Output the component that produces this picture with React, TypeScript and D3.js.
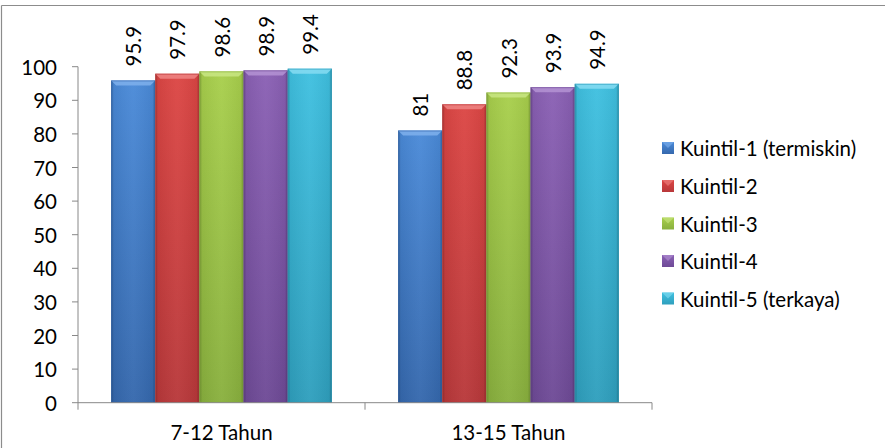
import React from "react";
import * as d3 from "d3";

const categories = ["7-12 Tahun", "13-15 Tahun"];
const seriesNames = [
  "Kuintil-1 (termiskin)",
  "Kuintil-2",
  "Kuintil-3",
  "Kuintil-4",
  "Kuintil-5 (terkaya)",
];
const kuintil1 = [95.9, 81];
const kuintil2 = [97.9, 88.8];
const kuintil3 = [98.6, 92.3];
const kuintil4 = [98.9, 93.9];
const kuintil5 = [99.4, 94.9];
const seriesValues = [kuintil1, kuintil2, kuintil3, kuintil4, kuintil5];
const yTicks = [0, 10, 20, 30, 40, 50, 60, 70, 80, 90, 100];

const colorsTop = ["#4a8ad8", "#dc4644", "#a8cf4c", "#8a60b4", "#3fc0e0"];
const colorsBottom = ["#3568ad", "#b8383a", "#89b03e", "#6e4a96", "#2f9fbd"];
const colorsLight = ["#7fb0ec", "#ee8584", "#c9e684", "#b493d4", "#86dcf2"];

const W = 885;
const H = 448;
const plotLeft = 78;
const plotRight = 652;
const plotTop = 66.7;
const plotBottom = 402.7;
const FONT = "Lato, 'Open Sans', sans-serif";
const FS = 20.5;

export default function App() {
  const y = d3.scaleLinear().domain([0, 100]).range([plotBottom, plotTop]);
  const x0 = d3
    .scaleBand<string>()
    .domain(categories)
    .range([plotLeft, plotRight])
    .paddingInner(0)
    .paddingOuter(0);
  const catW = x0.bandwidth();
  const barW = catW / (seriesNames.length + 1.5);
  const x1 = d3
    .scaleBand<string>()
    .domain(seriesNames)
    .range([barW * 0.75, barW * 0.75 + barW * seriesNames.length]);

  const legendY = [148, 186, 223.5, 261, 298.5];

  return (
    <svg
      width={W}
      height={H}
      style={{ position: "absolute", left: 0, top: 0, background: "#fff" }}
      fontFamily={FONT}
    >
      <defs>
        {seriesNames.map((s, i) => (
          <linearGradient key={"v" + i} id={"vg" + i} x1="0" y1="0" x2="0" y2="1">
            <stop offset="0" stopColor={colorsTop[i]} />
            <stop offset="1" stopColor={colorsBottom[i]} />
          </linearGradient>
        ))}
        <linearGradient id="edge" x1="0" y1="0" x2="1" y2="0">
          <stop offset="0" stopColor="#000" stopOpacity="0.28" />
          <stop offset="0.06" stopColor="#000" stopOpacity="0.05" />
          <stop offset="0.5" stopColor="#fff" stopOpacity="0.04" />
          <stop offset="0.94" stopColor="#000" stopOpacity="0.05" />
          <stop offset="1" stopColor="#000" stopOpacity="0.3" />
        </linearGradient>
      </defs>
      {/* outer border (top and left visible) */}
      <line x1={1.5} y1={5.5} x2={W} y2={5.5} stroke="#8c8c8c" strokeWidth={1.2} />
      <line x1={1.5} y1={5.5} x2={1.5} y2={H} stroke="#8c8c8c" strokeWidth={1.2} />

      {/* y axis */}
      <line x1={plotLeft} y1={plotTop} x2={plotLeft} y2={plotBottom} stroke="#888" />
      {yTicks.map((t) => (
        <g key={t}>
          <line x1={plotLeft - 6} x2={plotLeft} y1={y(t)} y2={y(t)} stroke="#888" />
          <text
            x={57}
            y={y(t)}
            textAnchor="end"
            dominantBaseline="central"
            fontSize={FS}
            fill="#000"
          >
            {t}
          </text>
        </g>
      ))}

      {/* bars */}
      {categories.map((c, ci) => (
        <g key={c} transform={`translate(${x0(c)},0)`}>
          {seriesNames.map((s, si) => {
            const v = seriesValues[si][ci];
            const bx = x1(s)!;
            const bw = x1.bandwidth();
            const top = y(v);
            const h = plotBottom - top;
            const bev = 5;
            return (
              <g key={s}>
                <rect x={bx} y={top} width={bw} height={h} fill={`url(#vg${si})`} />
                <rect x={bx} y={top} width={bw} height={h} fill="url(#edge)" />
                <polygon
                  points={`${bx},${top} ${bx + bw},${top} ${bx + bw - bev},${top + bev} ${bx + bev},${top + bev}`}
                  fill={colorsLight[si]}
                  opacity={0.85}
                />
                <rect
                  x={bx + 0.5}
                  y={top + 0.5}
                  width={bw - 1}
                  height={h - 1}
                  fill="none"
                  stroke={colorsBottom[si]}
                  strokeOpacity={0.6}
                />
                <text
                  transform={`translate(${bx + bw / 2},${top - 14}) rotate(-90)`}
                  textAnchor="start"
                  dominantBaseline="central"
                  fontSize={FS}
                  fill="#000"
                >
                  {v}
                </text>
              </g>
            );
          })}
        </g>
      ))}

      {/* x axis */}
      <line x1={plotLeft} y1={plotBottom} x2={plotRight} y2={plotBottom} stroke="#888" />
      {[plotLeft, ...categories.map((c) => x0(c)! + catW)].map((px, i) => (
        <line key={i} x1={px} x2={px} y1={plotBottom} y2={plotBottom + 7} stroke="#888" />
      ))}
      {categories.map((c) => (
        <text
          key={c}
          x={x0(c)! + catW / 2}
          y={440}
          textAnchor="middle"
          fontSize={FS}
          fill="#000"
        >
          {c}
        </text>
      ))}

      {/* legend */}
      {seriesNames.map((s, i) => (
        <g key={s}>
          <rect x={662} y={legendY[i] - 6} width={12} height={12} fill={`url(#vg${i})`} />
          <polygon
            points={`${662},${legendY[i] - 6} ${674},${legendY[i] - 6} ${668},${legendY[i]}`}
            fill={colorsLight[i]}
            opacity={0.6}
          />
          <text
            x={680}
            y={legendY[i]}
            dominantBaseline="central"
            fontSize={FS}
            fill="#000"
          >
            {s}
          </text>
        </g>
      ))}
    </svg>
  );
}
